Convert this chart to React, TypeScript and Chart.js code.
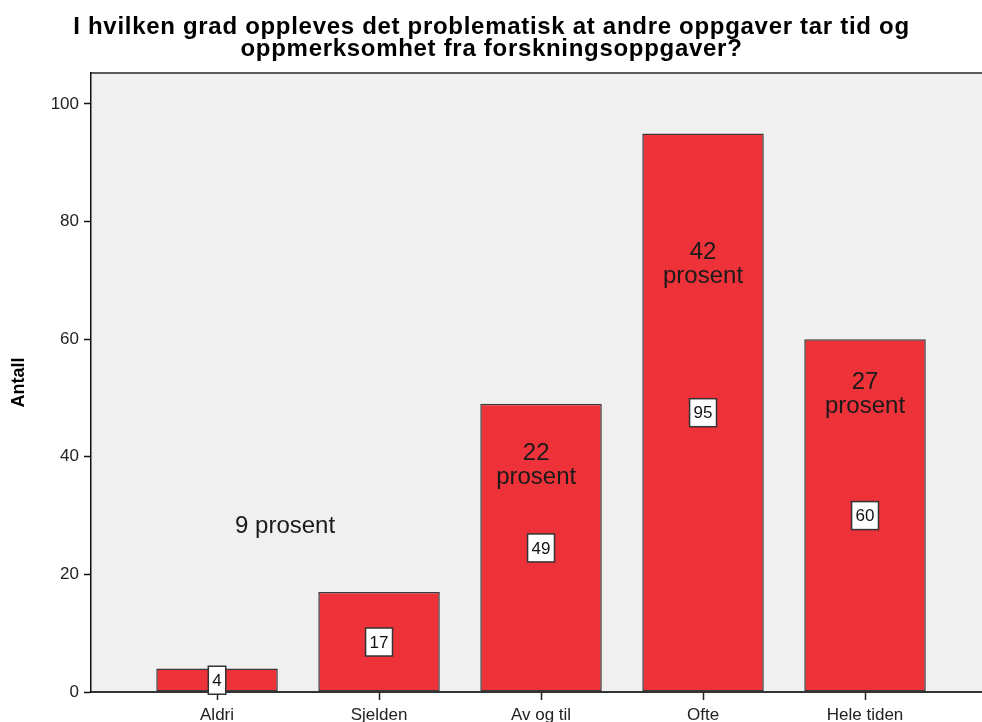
import React, { useEffect, useRef } from "react";
import { Chart, registerables } from "chart.js";

Chart.register(...registerables);

const titleLines = [
  "I hvilken grad oppleves det problematisk at andre oppgaver tar tid og",
  "oppmerksomhet fra forskningsoppgaver?",
];
const categories = ["Aldri", "Sjelden", "Av og til", "Ofte", "Hele tiden"];
const counts = [4, 17, 49, 95, 60];
const yTickValues = [0, 20, 40, 60, 80, 100];

// Percent annotations placed in data coordinates (category index, count value)
const annotTexts = [["9 prosent"], ["22", "prosent"], ["42", "prosent"], ["27", "prosent"]];
const annotX = [0.42, 1.97, 3, 4];
const annotY = [28.2, 40.6, 74.7, 52.7];

const FONT = "'Liberation Sans', Arial, Helvetica, sans-serif";

const plotPlugin = {
  id: "plotBg",
  beforeDraw(chart: any) {
    const { ctx, chartArea } = chart;
    const { left, top, right, bottom } = chartArea;
    ctx.save();
    ctx.fillStyle = "#f0f0f0";
    ctx.fillRect(left, top, right - left, bottom - top);
    ctx.strokeStyle = "#5a5a5a";
    ctx.lineWidth = 2;
    ctx.beginPath();
    ctx.moveTo(left, top);
    ctx.lineTo(right, top);
    ctx.stroke();
    ctx.restore();
  },
};

const titlePlugin = {
  id: "customTitle",
  afterDraw(chart: any) {
    const { ctx, width } = chart;
    ctx.save();
    ctx.font = `bold 24px ${FONT}`;
    (ctx as any).letterSpacing = "0.7px";
    ctx.fillStyle = "#000";
    ctx.textAlign = "center";
    ctx.textBaseline = "alphabetic";
    titleLines.forEach((ln, i) => {
      ctx.fillText(ln, width / 2 + 0.5, 34 + i * 21.5);
    });
    ctx.restore();
  },
};

const labelPlugin = {
  id: "valueLabels",
  afterDatasetsDraw(chart: any) {
    const { ctx } = chart;
    const yScale = chart.scales.y;
    const xScale = chart.scales.x;
    const meta = chart.getDatasetMeta(0);
    ctx.save();
    ctx.font = `17px ${FONT}`;
    ctx.textAlign = "center";
    ctx.textBaseline = "middle";
    meta.data.forEach((el: any, i: number) => {
      const txt = String(counts[i]);
      const x = el.x;
      const y = yScale.getPixelForValue(counts[i] / 2);
      const w = ctx.measureText(txt).width + 8;
      const h = 28;
      ctx.fillStyle = "#ffffff";
      ctx.fillRect(x - w / 2, y - h / 2, w, h);
      ctx.strokeStyle = "#333333";
      ctx.lineWidth = 1.5;
      ctx.strokeRect(x - w / 2, y - h / 2, w, h);
      ctx.fillStyle = "#111111";
      ctx.fillText(txt, x, y + 1);
    });
    ctx.font = `24px ${FONT}`;
    ctx.fillStyle = "#1a1a1a";
    annotTexts.forEach((lines, i) => {
      const x = xScale.getPixelForValue(annotX[i]);
      const y = yScale.getPixelForValue(annotY[i]);
      lines.forEach((ln, j) => {
        ctx.fillText(ln, x, y + j * 24);
      });
    });
    ctx.restore();
  },
};

export default function App() {
  const ref = useRef<HTMLCanvasElement | null>(null);
  useEffect(() => {
    document.body.style.margin = "0";
    document.body.style.overflow = "hidden";
    if (!ref.current) return;
    const chart = new Chart(ref.current, {
      type: "bar",
      data: {
        datasets: [
          {
            label: "Antall",
            data: counts.map((v, i) => ({ x: i, y: v })),
            backgroundColor: "#ee3239",
            borderColor: "#3a3a3a",
            borderWidth: 1.5,
            borderSkipped: false,
            barPercentage: 0.75,
            categoryPercentage: 1,
          },
        ],
      },
      options: {
        animation: false,
        responsive: false,
        maintainAspectRatio: false,
        layout: { padding: { top: 73, left: 0, right: 0, bottom: 0 } },
        plugins: {
          legend: { display: false },
          tooltip: { enabled: false },
          title: { display: false },
        },
        scales: {
          x: {
            type: "linear",
            offset: false,
            min: -0.778,
            max: 4.722,
            afterBuildTicks: (scale: any) => {
              scale.ticks = categories.map((_, i) => ({ value: i }));
            },
            afterFit: (scale: any) => {
              scale.height = 30;
            },
            ticks: {
              callback: (v: any) => categories[Math.round(Number(v))] ?? "",
              color: "#222",
              font: { family: FONT, size: 17 },
              padding: 5,
              maxRotation: 0,
              autoSkip: false,
            },
            grid: {
              offset: false,
              drawOnChartArea: false,
              drawTicks: true,
              tickLength: 8,
              tickColor: "#222",
              tickWidth: 1.5,
            },
            border: { display: true, color: "#333", width: 2 },
          },
          y: {
            min: 0,
            max: 105.27,
            afterBuildTicks: (scale: any) => {
              scale.ticks = yTickValues.map((v) => ({ value: v }));
            },
            afterFit: (scale: any) => {
              scale.width = 91;
            },
            ticks: {
              color: "#222",
              font: { family: FONT, size: 17 },
              padding: 5,
              includeBounds: false,
            },
            grid: {
              drawOnChartArea: false,
              drawTicks: true,
              tickLength: 7,
              tickColor: "#111",
              tickWidth: 1.5,
            },
            border: { display: true, color: "#111", width: 1.5 },
            title: {
              display: true,
              text: "Antall",
              color: "#000",
              font: { family: FONT, size: 18, weight: "bold", lineHeight: 1.2 },
              padding: { top: 8, bottom: 0 },
            },
          },
        },
      },
      plugins: [plotPlugin, labelPlugin, titlePlugin],
    });
    return () => chart.destroy();
  }, []);
  return (
    <div style={{ position: "absolute", left: 0, top: 0, width: 982, height: 722, overflow: "hidden" }}>
      <canvas ref={ref} width={982} height={722} style={{ display: "block" }} />
    </div>
  );
}
